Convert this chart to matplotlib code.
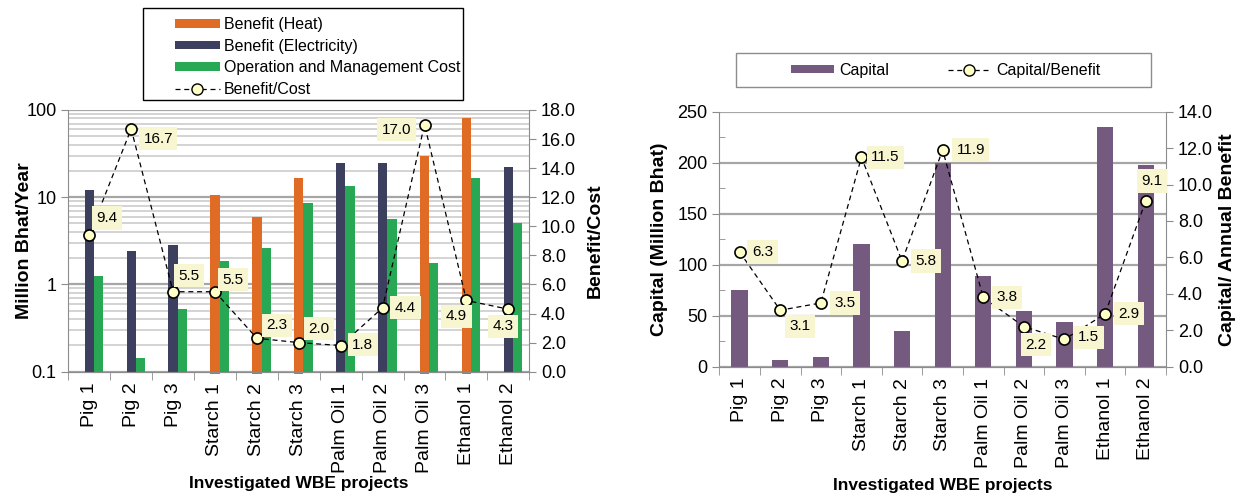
"""Benefit/cost and capital charts for the investigated WBE projects."""
import numpy as np
import matplotlib
matplotlib.use('Agg')
import matplotlib.pyplot as plt
from matplotlib.patches import Rectangle
from matplotlib.ticker import FixedLocator, FormatStrFormatter, NullFormatter, MultipleLocator

projects = ['Pig 1', 'Pig 2', 'Pig 3', 'Starch 1', 'Starch 2', 'Starch 3',
            'Palm Oil 1', 'Palm Oil 2', 'Palm Oil 3', 'Ethanol 1', 'Ethanol 2']

# million Bhat per year
benefit_heat = [0, 0, 0, 10.5, 6.0, 16.8, 0, 0, 29.4, 82, 0]
benefit_elec = [12.1, 2.4, 2.85, 0, 0, 0, 24.7, 24.7, 0, 0, 22.2]
om_cost = [1.25, 0.144, 0.52, 1.85, 2.65, 8.5, 13.5, 5.6, 1.74, 16.8, 5.0]
benefit_cost = [9.4, 16.7, 5.5, 5.5, 2.3, 2.0, 1.8, 4.4, 17.0, 4.9, 4.3]

# million Bhat
capital = [75, 7, 10, 120, 35, 200, 89, 55, 44, 235, 198]
capital_benefit = [6.3, 3.1, 3.5, 11.5, 5.8, 11.9, 3.8, 2.2, 1.5, 2.9, 9.1]

# label offsets in pixels (dx, dy upward)
bc_offsets = [(18, 17), (27, -10), (16, 16), (18, 12), (20, 13), (20, 14),
              (22, 1), (23, 0), (-28, -5), (-10, -16), (-5, -17)]
cb_offsets = [(23, 0), (20, -16), (24, 0), (24, 0), (24, 0), (28, 0),
              (24, 0), (12, -18), (24, 2), (24, 0), (6, 20)]

ORANGE = '#E06B24'
NAVY = '#3C3F5E'
GREEN = '#28A854'
PURPLE = '#735A7E'
LABEL_BG = '#F8F6D0'
MARKER_FC = '#FFFFC8'
AXIS_GRAY = '#8C8C8C'

plt.rcParams['font.family'] = ['Liberation Sans', 'DejaVu Sans']

W, H = 1247, 498


def fig_box(x0, y0, x1, y1):
    """pixel box (top-left origin) -> figure fraction rect"""
    return [x0 / W, 1 - y1 / H, (x1 - x0) / W, (y1 - y0) / H]


def style_axes(ax, ax2):
    for side in ['left', 'right', 'bottom']:
        ax.spines[side].set_color(AXIS_GRAY)
        ax2.spines[side].set_color(AXIS_GRAY)
    ax.spines['top'].set_visible(False)
    ax2.spines['top'].set_visible(False)
    ax.spines['right'].set_visible(False)
    ax2.spines['left'].set_visible(False)
    ax.set_axisbelow(True)

    x = np.arange(len(projects))
    ax.set_xlim(-0.5, len(projects) - 0.5)
    ax.set_xticks(x)
    ax.set_xticklabels(projects, rotation=90, fontsize=14)
    ax.xaxis.set_minor_locator(FixedLocator(np.arange(len(projects) + 1) - 0.5))
    ax.tick_params(axis='x', which='major', length=0, pad=8)
    ax.tick_params(axis='x', which='minor', length=6, color=AXIS_GRAY, direction='out')
    ax2.tick_params(axis='y', which='major', length=5, color=AXIS_GRAY,
                    direction='out', labelsize=13)
    ax2.yaxis.set_major_formatter(FormatStrFormatter('%.1f'))


def ratio_line(ax2, values, offsets):
    x = np.arange(len(values))
    ax2.plot(x, values, linestyle=(0, (4, 3)), color='black', linewidth=0.9,
             marker='o', markersize=8, markerfacecolor=MARKER_FC,
             markeredgecolor='black', markeredgewidth=1.2, zorder=5,
             clip_on=False)
    for i, v in enumerate(values):
        dx, dy = offsets[i]
        ax2.annotate(f'{v:.1f}', xy=(i, v), xytext=(dx, dy),
                     textcoords='offset pixels', ha='center', va='center',
                     fontsize=11,
                     bbox=dict(boxstyle='square,pad=0.3', fc=LABEL_BG, ec='none'),
                     zorder=6)


fig = plt.figure(figsize=(W / 100, H / 100), dpi=100)

# ---- left: benefits and O&M cost (log scale) ----
ax = fig.add_axes(fig_box(68.3, 110, 529.3, 371.7))
ax2 = ax.twinx()
x = np.arange(len(projects))
bw = 0.222

heat = np.array(benefit_heat, dtype=float)
elec = np.array(benefit_elec, dtype=float)
hm = heat > 0
em = elec > 0
ax.bar(x[hm], heat[hm] - 0.0936, bottom=0.0936, width=bw, color=ORANGE,
       clip_on=False, label='Benefit (Heat)')
ax.bar(x[em], elec[em] - 0.1, bottom=0.1, width=bw, color=NAVY,
       label='Benefit (Electricity)')
ax.bar(x + bw, np.array(om_cost) - 0.1, bottom=0.1, width=bw, color=GREEN,
       label='Operation and Management Cost')

ax.set_yscale('log')
ax.set_ylim(0.1, 100)
ax.set_yticks([0.1, 1, 10, 100])
ax.set_yticklabels(['0.1', '1', '10', '100'], fontsize=13)
ax.yaxis.set_minor_formatter(NullFormatter())
ax.grid(which='major', axis='y', color='#A6A6A6', linewidth=1.6)
ax.grid(which='minor', axis='y', color='#D0D0D0', linewidth=1.3)
ax.tick_params(axis='y', which='major', length=5, color=AXIS_GRAY, direction='out')
ax.tick_params(axis='y', which='minor', length=0)

ax2.set_ylim(0, 18)
ax2.yaxis.set_major_locator(MultipleLocator(2))
ratio_line(ax2, benefit_cost, bc_offsets)
style_axes(ax, ax2)

ax.set_ylabel('Million Bhat/Year', fontsize=14, fontweight='bold')
ax.yaxis.set_label_coords(-0.0766, 0.5)
ax2.set_ylabel('Benefit/Cost', fontsize=14, fontweight='bold')
ax2.yaxis.set_label_coords(1.124, 0.5)
ax.set_xlabel('Investigated WBE projects', fontsize=12.5, fontweight='bold')
ax.xaxis.set_label_coords(0.5, -0.40)

h1, l1 = ax.get_legend_handles_labels()
h2 = plt.Line2D([], [], linestyle=(0, (4, 3)), color='black', linewidth=0.9,
                marker='o', markersize=8, markerfacecolor=MARKER_FC,
                markeredgecolor='black')
fig.patches.append(Rectangle((142.7 / W, 1 - 100 / H), 320.6 / W, 91.7 / H,
                             transform=fig.transFigure, fill=False,
                             edgecolor='black', linewidth=1.0))
fig.legend(h1 + [h2], l1 + ['Benefit/Cost'], loc='upper left',
           bbox_to_anchor=(175 / W, 1 - 17 / H), frameon=False,
           handlelength=2.8, handleheight=0.45, handletextpad=0.25,
           labelspacing=0.42, borderpad=0, borderaxespad=0, numpoints=1,
           prop={'size': 11.5})

# ---- right: capital and capital / annual benefit ----
bx = fig.add_axes(fig_box(719.3, 111.7, 1166, 366.7))
bx2 = bx.twinx()
bx.bar(x, capital, width=0.4, color=PURPLE, label='Capital')
bx.set_ylim(0, 250)
bx.yaxis.set_major_locator(MultipleLocator(50))
bx.yaxis.set_minor_locator(MultipleLocator(25))
bx.set_yticklabels([f'{int(v)}' for v in bx.get_yticks()], fontsize=13)
bx.grid(which='major', axis='y', color='#A6A6A6', linewidth=1.6)
bx.tick_params(axis='y', which='major', length=5, color=AXIS_GRAY, direction='out')
bx.tick_params(axis='y', which='minor', length=4, color=AXIS_GRAY, direction='in')

bx2.set_ylim(0, 14)
bx2.yaxis.set_major_locator(MultipleLocator(2))
ratio_line(bx2, capital_benefit, cb_offsets)
style_axes(bx, bx2)

bx.set_ylabel('Capital (Million Bhat)', fontsize=14, fontweight='bold')
bx.yaxis.set_label_coords(-0.115, 0.5)
bx2.set_ylabel('Capital/ Annual Benefit', fontsize=14, fontweight='bold')
bx2.yaxis.set_label_coords(1.1187, 0.5)
bx.set_xlabel('Investigated WBE projects', fontsize=12.5, fontweight='bold')
bx.xaxis.set_label_coords(0.5, -0.436)

hc, lc = bx.get_legend_handles_labels()
fig.patches.append(Rectangle((736 / W, 1 - 87.3 / H), 414.7 / W, 34.6 / H,
                             transform=fig.transFigure, fill=False,
                             edgecolor='#8C8C8C', linewidth=1.0))
fig.legend(hc + [h2], lc + ['Capital/Benefit'], loc='center left',
           bbox_to_anchor=(791 / W, 1 - 70 / H), frameon=False, ncol=2,
           handlelength=2.7, handleheight=0.45, handletextpad=0.3,
           columnspacing=3.7, borderpad=0, borderaxespad=0, numpoints=1,
           prop={'size': 11.5})

fig.savefig('out.png', dpi=100)
